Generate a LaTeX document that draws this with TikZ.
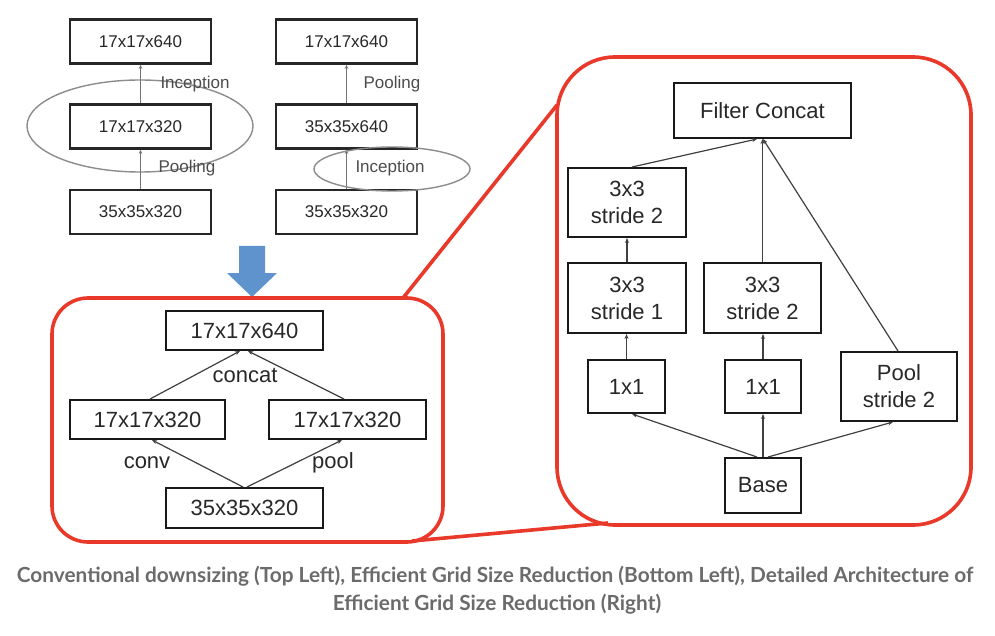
\documentclass[tikz,border=0pt]{standalone}
\usepackage{fontspec}
\setmainfont{Liberation Sans}
\newfontfamily\capfont{Lato}
\usetikzlibrary{arrows.meta,calc}
\definecolor{redc}{RGB}{232,57,43}
\definecolor{bluea}{RGB}{95,147,205}
\definecolor{capgray}{RGB}{107,107,107}
\definecolor{txt}{RGB}{40,40,40}
\tikzset{
  tbox/.style={draw=black!85, line width=2.6pt, minimum width=141pt, minimum height=44pt, inner sep=0pt, font=\fontsize{17}{20}\selectfont, text=txt},
  bbox/.style={draw=black!90, line width=2pt, inner sep=0pt, font=\fontsize{22}{27}\selectfont, text=txt, align=center},
  arr/.style={draw=black!75, line width=1.2pt, -{Stealth[length=5pt,width=4pt]}},
  tarr/.style={draw=black!55, line width=1.1pt, -{Stealth[length=4pt,width=3.5pt]}},
  lbl/.style={font=\fontsize{17}{20}\selectfont, text=black!70, inner sep=0pt},
  blbl/.style={font=\fontsize{22}{26}\selectfont, text=txt, inner sep=0pt},
  ell/.style={draw=black!45, line width=1.4pt},
  redbox/.style={draw=redc, line width=3.6pt},
  redline/.style={draw=redc, line width=3.6pt},
  captxt/.style={font=\capfont\bfseries\fontsize{20.8}{28}\selectfont, text=capgray, inner sep=0pt}
}
\begin{document}
\begin{tikzpicture}[x=1pt,y=-1pt]
\useasboundingbox (0,0) rectangle (995,636);
\fill[white] (0,0) rectangle (995,636);

% ---- top left: conventional
\draw[ell] (140,126) ellipse [x radius=113, y radius=46];
\node[tbox] (tl1) at (140.5,41.5) {17x17x640};
\node[tbox] (tl2) at (140.5,126.5) {17x17x320};
\node[tbox] (tl3) at (140.5,212) {35x35x320};
\draw[tarr] (tl3.north) -- (tl2.south);
\draw[tarr] (tl2.north) -- (tl1.south);
\node[lbl] (lincA) at (195,84) {Inception};
\node[lbl] (lpoolA) at (187,168) {Pooling};

\node[tbox] (tr1) at (346.5,41.5) {17x17x640};
\node[tbox] (tr2) at (346.5,126.5) {35x35x640};
\node[tbox] (tr3) at (346.5,212) {35x35x320};
\draw[tarr] (tr3.north) -- (tr2.south);
\draw[tarr] (tr2.north) -- (tr1.south);
\draw[ell] (392,169) ellipse [x radius=78, y radius=22];
\node[lbl] (lpoolB) at (392,84) {Pooling};
\node[lbl] (lincB) at (390,168) {Inception};

% ---- blue arrow
\fill[bluea] (239,246) -- (265,246) -- (265,273) -- (277,273) -- (252,297) -- (227,273) -- (239,273) -- cycle;

% ---- red frames and connectors
\draw[redbox, rounded corners=36pt] (52,298) rectangle (443,542);
\draw[redbox, rounded corners=58pt] (557,57) rectangle (971,525);
\coordinate (cA) at (403,298);
\coordinate (cB) at (557,105);
\coordinate (cC) at (412,541);
\coordinate (cD) at (608,523);
\draw[redline] (cA) -- (cB);
\draw[redline] (cC) -- (cD);

% ---- bottom left: efficient grid size reduction
\node[bbox, minimum width=157pt, minimum height=39pt] (b1) at (244.5,330.5) {17x17x640};
\node[bbox, minimum width=155pt, minimum height=39pt] (b2) at (147.5,419.5) {17x17x320};
\node[bbox, minimum width=157pt, minimum height=39pt] (b3) at (347.5,419.5) {17x17x320};
\node[bbox, minimum width=157pt, minimum height=40pt] (b4) at (244.5,508) {35x35x320};
\draw[arr] ([xshift=-1.5pt]b4.north) -- ([xshift=4.5pt]b2.north |- b2.south);
\draw[arr] ([xshift=2.5pt]b4.north) -- ([xshift=-5.5pt]b3.north |- b3.south);
\draw[arr] ([xshift=2.5pt]b2.north) -- ([xshift=-4.5pt]b1.south);
\draw[arr] ([xshift=-3.5pt]b3.north) -- ([xshift=3.5pt]b1.south);
\node[blbl] (lcat) at (245,375) {concat};
\node[blbl] (lconv) at (147,463) {conv};
\node[blbl] (lpool) at (333,463) {pool};

% ---- right: detailed architecture
\node[bbox, minimum width=177pt, minimum height=55pt] (fc) at (762.5,110.5) {Filter Concat};
\node[bbox, minimum width=118pt, minimum height=69pt] (s2a) at (627,202.5) {3x3\\stride 2};
\node[bbox, minimum width=118pt, minimum height=70pt] (s1) at (627,298) {3x3\\stride 1};
\node[bbox, minimum width=117pt, minimum height=70pt] (s2b) at (762.5,298) {3x3\\stride 2};
\node[bbox, minimum width=77pt, minimum height=53pt] (c1a) at (626.5,386.5) {1x1};
\node[bbox, minimum width=76pt, minimum height=53pt] (c1b) at (763,386.5) {1x1};
\node[bbox, minimum width=116pt, minimum height=69pt] (pl) at (899,386.5) {Pool\\stride 2};
\node[bbox, minimum width=76pt, minimum height=55pt] (base) at (763,485.5) {Base};

\draw[arr] ([xshift=-6pt]base.north) -- ([xshift=5.5pt]c1a.south);
\draw[arr] (base.north) -- (c1b.south);
\draw[arr] ([xshift=5pt]base.north) -- ([xshift=-6pt]pl.south);
\draw[arr] (c1a.north) -- (c1a.north |- s1.south);
\draw[arr] (s1.north) -- (s2a.south);
\draw[arr] (c1b.north) -- (c1b.north |- s2b.south);
\draw[arr] ([xshift=5pt]s2a.north) -- ([xshift=-5.5pt]fc.south);
\draw[arr] (s2b.north) -- (s2b.north |- fc.south);
\draw[arr] ([xshift=-1pt]pl.north) -- ([xshift=0.5pt]fc.south);

% ---- caption
\node[captxt] (cap1) at (495,576) {Conventional downsizing (Top Left), Efficient Grid Size Reduction (Bottom Left), Detailed Architecture of};
\node[captxt] (cap2) at (497,604) {Efficient Grid Size Reduction (Right)};
\end{tikzpicture}
\end{document}
